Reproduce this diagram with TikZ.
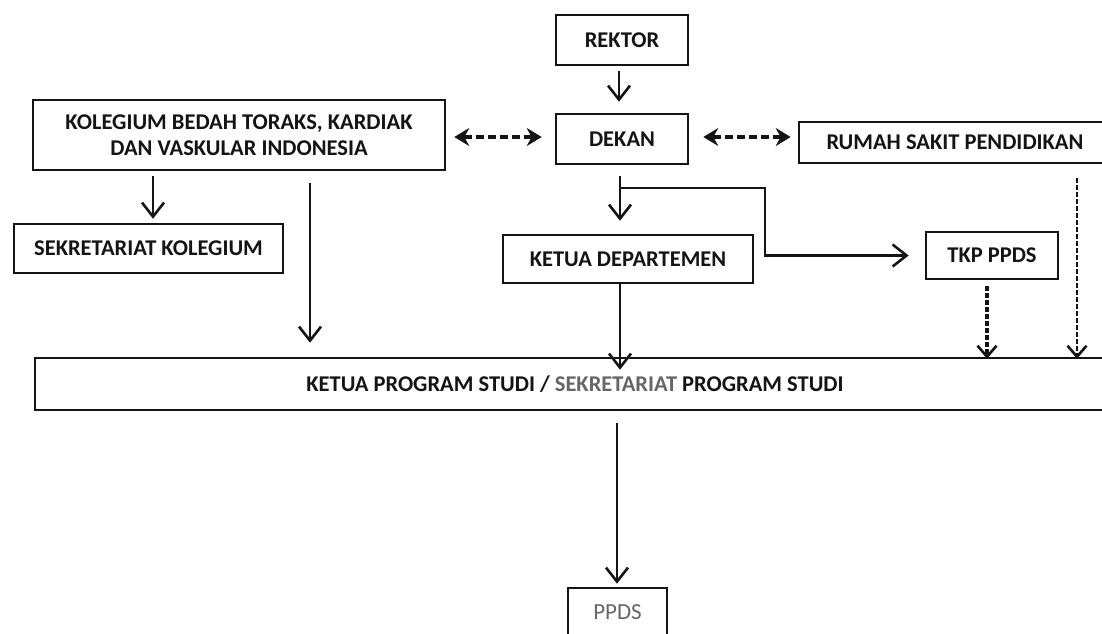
\documentclass[tikz,border=0pt]{standalone}
\usepackage{fontspec}
\setmainfont{Carlito}
\usetikzlibrary{arrows.meta,calc}
\definecolor{ink}{HTML}{141414}
\definecolor{softgray}{HTML}{666666}
\tikzset{
  box/.style={draw=ink, line width=2.6pt, inner sep=0pt, align=center,
    font=\bfseries\fontsize{22.5}{26}\selectfont, text=ink},
  arr/.style={draw=ink, line width=2.6pt, -{Straight Barb[length=14pt,width=22pt,line width=2.6pt]}},
  darr/.style={draw=ink, line width=3.2pt, dash pattern=on 8pt off 4pt,
    {Stealth[length=15pt,width=18pt,inset=5pt]}-{Stealth[length=15pt,width=18pt,inset=5pt]}},
  varr/.style={draw=ink, line width=2.6pt, dash pattern=on 5pt off 2pt,
    -{Straight Barb[length=11pt,width=19pt,line width=2.6pt]}},
}
\begin{document}
\begin{tikzpicture}[x=1pt,y=-1pt]
\useasboundingbox (0,0) rectangle (1102,633);
\clip (0,0) rectangle (1102,633);
\fill[white] (0,0) rectangle (1102,633);

% nodes
\node[box, minimum width=132pt, minimum height=50pt] (rektor) at (622,40) {REKTOR};
\node[box, minimum width=132pt, minimum height=50pt] (dekan) at (622,139) {DEKAN};
\node[box, minimum width=412pt, minimum height=70pt] (kol) at (239,135)
  {KOLEGIUM BEDAH TORAKS, KARDIAK\\DAN VASKULAR INDONESIA};
\node[box, minimum width=269pt, minimum height=49pt] (sek) at (148.5,248.5) {SEKRETARIAT KOLEGIUM};
\node[box, minimum width=312pt, minimum height=41pt] (rs) at (955,142.5) {RUMAH SAKIT PENDIDIKAN};
\node[box, minimum width=250pt, minimum height=48pt] (dept) at (628,259) {KETUA DEPARTEMEN};
\node[box, minimum width=132pt, minimum height=47pt] (tkp) at (992,255.5) {TKP PPDS};
\node[box, minimum width=1080pt, minimum height=52pt] (bar) at (575,384)
  {KETUA PROGRAM STUDI / \textcolor{softgray}{SEKRETARIAT} PROGRAM STUDI};
\node[box, font=\fontsize{23}{27}\selectfont, text=softgray, minimum width=99pt, minimum height=48pt] (ppds) at (617.5,612) {PPDS};

% helper coordinates
\coordinate (c619) at (619,0);
\coordinate (c620) at (620,0);
\coordinate (c617) at (617,0);
\coordinate (c153) at (153,0);
\coordinate (c310) at (310,0);
\coordinate (c987) at (987,0);
\coordinate (c1077) at (1077,0);
\coordinate (y137) at (0,137);
\coordinate (br) at (620,188);
\coordinate (bend) at (765,220);

% connectors
\draw[arr, shorten <=5pt, shorten >=11pt] (rektor.south -| c619) -- (dekan.north -| c619);
\draw[arr, shorten <=11pt, shorten >=13pt] (dekan.south -| c620) -- (dept.north -| c620);
\draw[arr, shorten >=16pt] (br) -| (bend) |- (tkp.west);
\draw[arr, shorten <=5pt, shorten >=4pt] (kol.south -| c153) -- (sek.north -| c153);
\draw[arr, shorten <=12pt, shorten >=14pt] (kol.south -| c310) -- (bar.north -| c310);
\draw[arr] (dept.south -| c620) -- ($(bar.north -| c620)+(0,13)$);
\draw[arr, shorten <=12pt, shorten >=3pt] (bar.south -| c617) -- (ppds.north -| c617);
\draw[darr, shorten <=8pt, shorten >=13pt] (kol.east |- y137) -- (dekan.west |- y137);
\draw[darr, shorten <=14pt, shorten >=7pt] (dekan.east |- y137) -- (rs.west |- y137);
\draw[varr, line width=3.4pt, shorten <=6pt, shorten >=-2pt] (tkp.south -| c987) -- (bar.north -| c987);
\draw[varr, shorten <=14pt, shorten >=-2pt] (rs.south -| c1077) -- (bar.north -| c1077);
\end{tikzpicture}
\end{document}
